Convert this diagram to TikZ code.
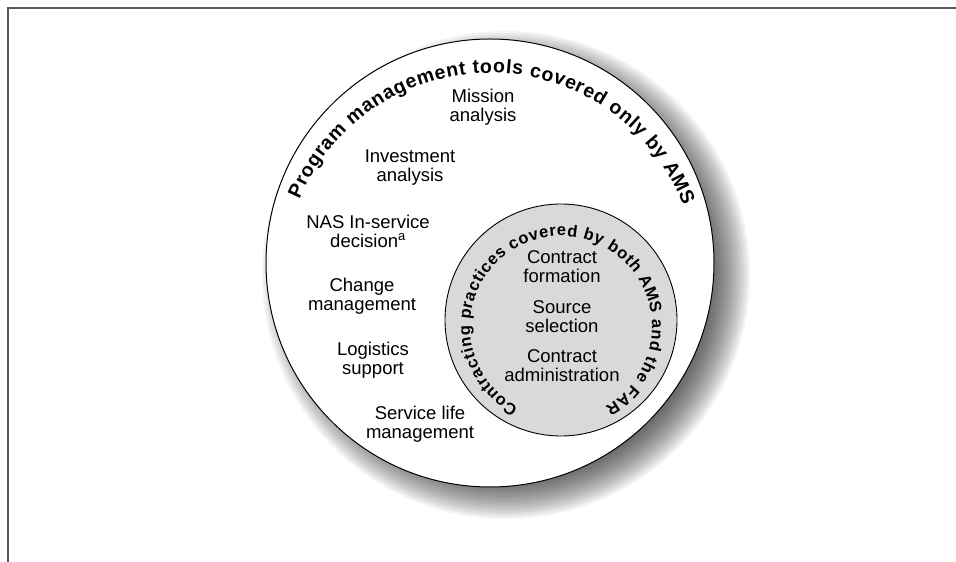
\documentclass[tikz,border=0pt]{standalone}
\usepackage{fontspec}
\setmainfont{Liberation Sans}
\usetikzlibrary{decorations.text}

\begin{document}
\begin{tikzpicture}[x=1pt,y=1pt,
	item/.style={align=center,inner sep=0pt,font=\fontsize{18.5}{19}\selectfont},
	arctext/.style={decorate,decoration={text along path,text align=fit to path,text={#1}}},
	frameline/.style={draw=black!65,line width=2pt}]
	\useasboundingbox (0,0) rectangle (956,562);

	% centres
	\coordinate (ams)    at (490,299);
	\coordinate (shadow) at (506,287);
	\coordinate (amstxt) at (490,282);
	\coordinate (far)    at (561,242);
	\coordinate (fartxt) at (561,235);

	% frame
	\draw[frameline] (956,554) -- (8,554) -- (8,0);

	% soft shadow
	\foreach \k in {0,...,20}
		\fill[black,opacity=0.043] (shadow) circle[radius={244-2*\k}];

	% outer circle
	\draw[fill=white,line width=1pt] (ams) circle[radius=224];
	\path[arctext={|\fontsize{19.5}{19.5}\selectfont\bfseries|Program management tools covered only by AMS}]
		(amstxt) ++(157:207) arc[start angle=157,end angle=21,radius=207];

	% inner circle
	\draw[fill=black!15,line width=0.9pt] (far) circle[radius=116];
	\path[arctext={|\fontsize{16.5}{16.5}\selectfont\bfseries|Contracting practices covered by both AMS and the FAR}]
		(fartxt) ++(242:91) arc[start angle=242,end angle=-61,radius=91];

	% tools covered only by AMS
	\node[item] (mission)   at (483,455) {Mission\\analysis};
	\node[item] (invest)    at (410,394) {Investment\\analysis};
	\node[item] (nas)       at (368,331) {NAS In-service\\decision\textsuperscript{a}};
	\node[item] (change)    at (362,266) {Change\\management};
	\node[item] (logistics) at (373,202) {Logistics\\support};
	\node[item] (service)   at (420,138) {Service life\\management};

	% practices covered by both
	\node[item] (formation) at (562,295) {Contract\\formation};
	\node[item] (source)    at (562,245) {Source\\selection};
	\node[item] (admin)     at (562,196) {Contract\\administration};
\end{tikzpicture}
\end{document}
